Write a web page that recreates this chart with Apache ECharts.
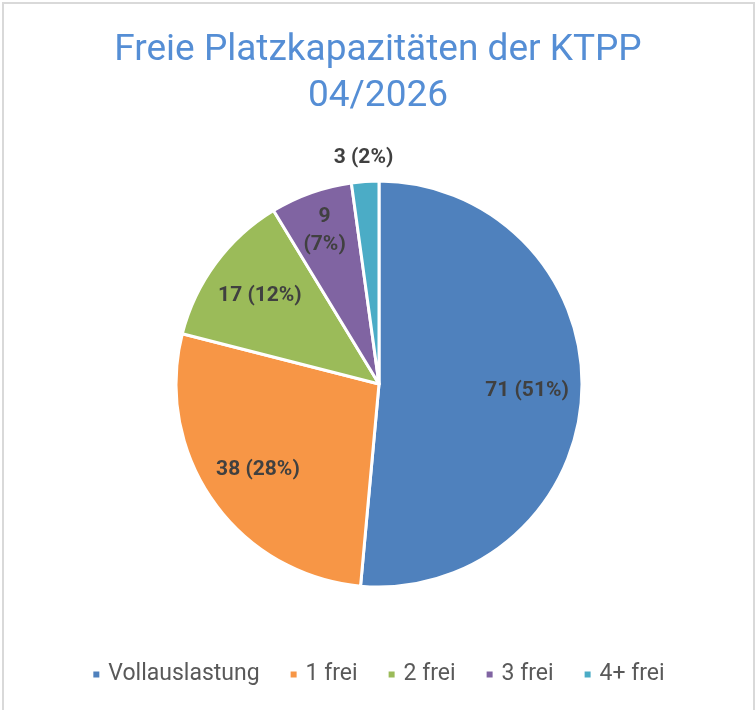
<!DOCTYPE html>
<html>
<head>
<meta charset="utf-8">
<script src="https://cdn.jsdelivr.net/npm/echarts@6/dist/echarts.min.js"></script>
<style>
  html, body { margin: 0; padding: 0; background: #fff; }
  #chart { width: 756px; height: 710px; }
</style>
</head>
<body>
<div id="chart"></div>
<script>
// Daten
const categories = ['Vollauslastung', '1 frei', '2 frei', '3 frei', '4+ frei']
const values = [71, 38, 17, 9, 3]
const colors = ['#4F81BD', '#F79646', '#9BBB59', '#8064A2', '#4BACC6']

// Geometrie
const CX = 379
const CY = 384
const R = 203
const FONT = 'Roboto, "Open Sans", sans-serif'

const total = values.reduce((s, v) => s + v, 0)

// Mittelwinkel je Segment (im Uhrzeigersinn ab 12 Uhr)
const midAngles = []
let acc = 0
values.forEach(v => {
  midAngles.push((acc + v / 2) / total * Math.PI * 2)
  acc += v
})

const chart = echarts.init(document.getElementById('chart'))

chart.setOption({
  animation: false,
  color: colors,
  graphic: [{
    type: 'rect',
    shape: { x: 3, y: 3, width: 751, height: 730 },
    style: { fill: 'none', stroke: '#d9d9d9', lineWidth: 2 },
    silent: true,
  }],
  title: {
    text: 'Freie Platzkapazitäten der KTPP\n04/2026',
    left: 'center',
    top: 23,
    textStyle: {
      fontFamily: FONT,
      fontSize: 37,
      fontWeight: 'normal',
      color: '#558ED5',
      lineHeight: 46,
    },
  },
  legend: {
    bottom: 19,
    left: 'center',
    icon: 'rect',
    itemWidth: 8,
    itemHeight: 8,
    itemGap: 29,
    data: categories,
    textStyle: { fontFamily: FONT, fontSize: 23, color: '#595959', padding: [0, 0, 0, 3] },
  },
  series: [{
    type: 'pie',
    center: [CX, CY],
    radius: R,
    startAngle: 90,
    clockwise: true,
    percentPrecision: 0,
    emphasis: { disabled: true },
    itemStyle: { borderColor: '#fff', borderWidth: 3 },
    label: {
      show: true,
      position: 'inside',
      formatter: (p) => p.dataIndex === 3 ? `${p.value}\n(${p.percent}%)` : `${p.value} (${p.percent}%)`,
      fontFamily: FONT,
      fontSize: 21,
      fontWeight: 'bold',
      lineHeight: 28,
      color: '#404040',
    },
    labelLine: { show: false },
    labelLayout: (params) => {
      const i = params.dataIndex
      const a = midAngles[i]
      const k = i === 4 ? R + 24 : i === 3 ? R * 0.8 : R * 0.73
      return {
        x: CX + k * Math.sin(a),
        y: CY - k * Math.cos(a),
        align: 'center',
        verticalAlign: 'middle',
      }
    },
    data: categories.map((name, i) => ({ name, value: values[i] })),
  }],
})
</script>
</body>
</html>
